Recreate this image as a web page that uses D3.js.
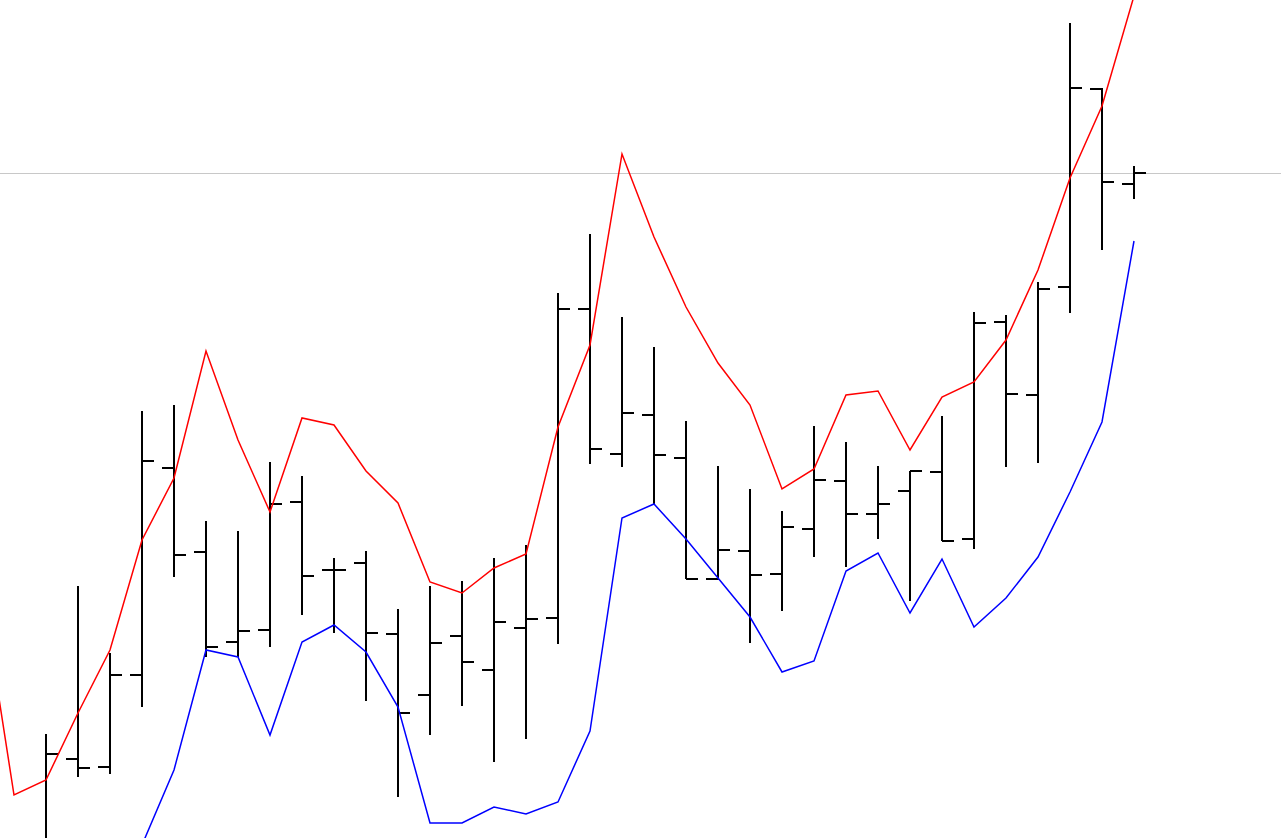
<!DOCTYPE html>
<html>
<head>
<meta charset="utf-8">
<script src="https://cdn.jsdelivr.net/npm/d3@7"></script>
<style>
  html, body { margin: 0; padding: 0; background: #fff; overflow: hidden; }
  svg { display: block; }
</style>
</head>
<body>
<svg id="chart" width="1281" height="838"></svg>
<script>
// ---- data ----
const categories = d3.range(1, 38).map(d => "D" + d);
const opens  = [91.8, 78.0, 77.0, 87.9, 87.1, 96.3, 117.0, 108.6, 99.6, 100.8, 113.6, 106.8, 107.5, 100.4, 94.3, 100.2, 96.8, 101.0, 102.0, 132.9, 118.4, 122.3, 118.0, 105.9, 108.7, 106.4, 110.9, 115.7, 112.4, 114.7, 116.6, 109.9, 131.6, 124.3, 135.1, 154.9, 145.4];
const highs  = [93.8, 79.3, 90.4, 105.2, 98.5, 122.7, 123.3, 111.7, 110.7, 117.6, 116.2, 108.0, 108.7, 102.9, 105.2, 105.7, 108.0, 109.3, 134.5, 140.4, 132.1, 129.1, 121.7, 117.2, 114.9, 112.7, 121.2, 119.6, 117.2, 116.7, 122.2, 132.6, 132.3, 135.6, 161.5, 155.0, 147.2];
const lows   = [75.8, 73.8, 75.8, 86.1, 86.4, 93.1, 106.1, 98.1, 98.1, 99.1, 102.3, 100.5, 93.7, 84.1, 90.3, 93.2, 87.6, 89.9, 99.4, 117.4, 117.1, 113.4, 105.9, 105.8, 99.5, 102.7, 108.1, 107.1, 109.9, 103.7, 109.7, 108.9, 117.1, 117.5, 132.5, 138.8, 143.9];
const closes = [77.8, 76.8, 88.4, 87.0, 96.3, 117.7, 108.3, 99.1, 100.7, 113.4, 106.2, 106.8, 100.5, 92.5, 99.5, 97.6, 101.6, 101.9, 132.9, 118.9, 122.5, 118.3, 105.9, 108.8, 106.3, 111.1, 115.8, 112.4, 113.4, 116.7, 109.7, 131.5, 124.4, 134.9, 155.0, 145.6, 146.5];
const upperBand = [104.9, 84.3, 85.8, 92.5, 98.8, 109.8, 116.0, 128.7, 119.8, 112.6, 122.0, 121.3, 116.7, 113.5, 105.6, 104.5, 107.0, 108.4, 121.1, 129.3, 148.4, 140.1, 133.1, 127.5, 123.3, 114.9, 116.9, 124.3, 124.7, 118.8, 124.1, 125.6, 129.8, 136.8, 146.0, 153.2, 164.2];
const lowerBand = [63.8, 64.8, 67.8, 70.8, 73.8, 79.3, 86.8, 98.8, 98.1, 90.3, 99.6, 101.3, 98.6, 93.1, 81.5, 81.5, 83.1, 82.4, 83.6, 90.7, 112.0, 113.4, 109.9, 106.0, 102.1, 96.6, 97.7, 106.7, 108.5, 102.5, 107.9, 101.1, 104.0, 108.1, 114.6, 121.6, 139.7];

const W = 1281, H = 838;
const svg = d3.select("#chart");
svg.append("rect").attr("width", W).attr("height", H).attr("fill", "#fff");

const x = d3.scaleLinear().domain([0, categories.length - 1]).range([-18, -18 + 32 * (categories.length - 1)]);
const y = d3.scaleLinear().domain([80, 163.8]).range([H, 0]);
const tick = 12;

const bars = categories.map((c, i) => ({ c, i, o: opens[i], h: highs[i], l: lows[i], cl: closes[i] }));

// last price line
const lastClose = closes[closes.length - 1];
svg.append("line")
  .attr("x1", 0).attr("x2", W)
  .attr("y1", Math.round(y(lastClose)) + 0.5).attr("y2", Math.round(y(lastClose)) + 0.5)
  .attr("stroke", "#c8c8c8").attr("stroke-width", 1);

const g = svg.append("g").attr("stroke", "#000").attr("stroke-width", 2).attr("shape-rendering", "crispEdges");
const bg = g.selectAll("g.bar").data(bars).join("g").attr("class", "bar");
bg.append("line")
  .attr("x1", d => x(d.i)).attr("x2", d => x(d.i))
  .attr("y1", d => Math.round(y(d.h))).attr("y2", d => Math.round(y(d.l)));
bg.append("line")
  .attr("x1", d => x(d.i) - tick).attr("x2", d => x(d.i))
  .attr("y1", d => Math.round(y(d.o))).attr("y2", d => Math.round(y(d.o)));
bg.append("line")
  .attr("x1", d => x(d.i)).attr("x2", d => x(d.i) + tick)
  .attr("y1", d => Math.round(y(d.cl))).attr("y2", d => Math.round(y(d.cl)));

const line = d3.line().x((d, i) => x(i)).y(d => y(d));
svg.append("path").datum(upperBand).attr("d", line)
  .attr("fill", "none").attr("stroke", "#ff0000").attr("stroke-width", 1.5);
svg.append("path").datum(lowerBand).attr("d", line)
  .attr("fill", "none").attr("stroke", "#0000ff").attr("stroke-width", 1.5);
</script>
</body>
</html>
